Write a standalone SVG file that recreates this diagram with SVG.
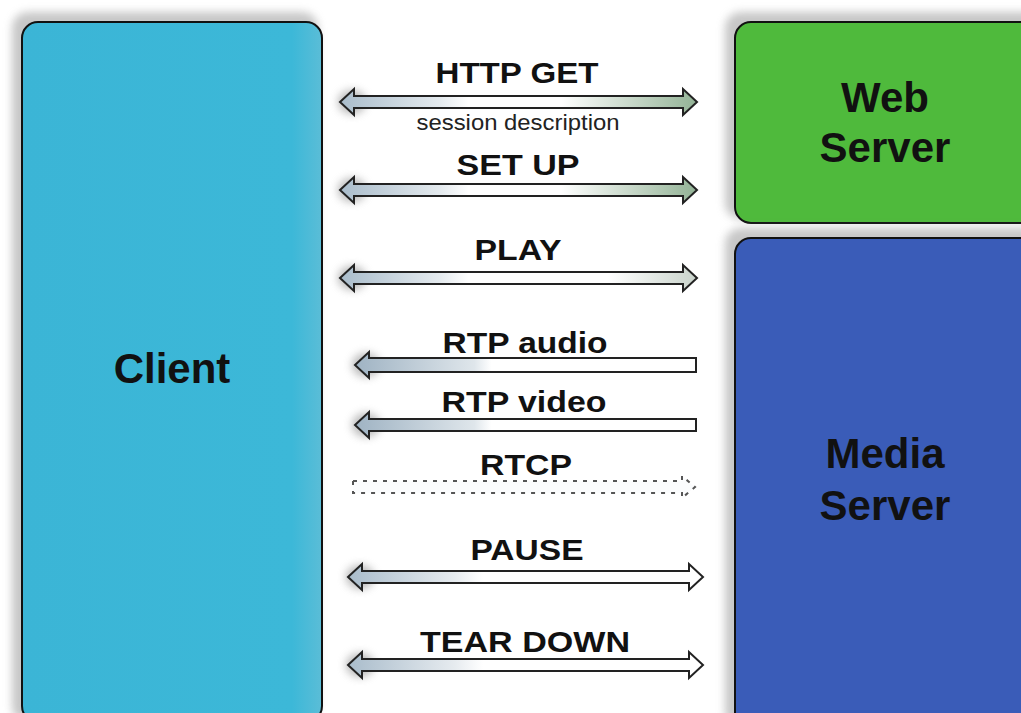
<svg xmlns="http://www.w3.org/2000/svg" width="1021" height="713" viewBox="0 0 1021 713">
  <defs>
    <filter id="soft" x="-20%" y="-20%" width="140%" height="140%">
      <feGaussianBlur stdDeviation="4"/>
    </filter>
    <filter id="glow" x="-100%" y="-100%" width="300%" height="300%">
      <feGaussianBlur stdDeviation="4"/>
    </filter>
    <linearGradient id="clientFill" x1="0" y1="0" x2="1" y2="0">
      <stop offset="0" stop-color="#3bb5d6"/>
      <stop offset="0.9" stop-color="#3cb8d8"/>
      <stop offset="1" stop-color="#5bbdd7"/>
    </linearGradient>
    <!-- shaft fills: blue-grey at the left end, white middle, tinted right end -->
    <linearGradient id="fillGreen" x1="0" y1="0" x2="1" y2="0">
      <stop offset="0" stop-color="#a9bccb"/>
      <stop offset="0.28" stop-color="#e4eaee"/>
      <stop offset="0.36" stop-color="#ffffff"/>
      <stop offset="0.62" stop-color="#ffffff"/>
      <stop offset="1" stop-color="#93b396"/>
    </linearGradient>
    <linearGradient id="fillGrey" x1="0" y1="0" x2="1" y2="0">
      <stop offset="0" stop-color="#a9bccb"/>
      <stop offset="0.28" stop-color="#e4eaee"/>
      <stop offset="0.36" stop-color="#ffffff"/>
      <stop offset="0.75" stop-color="#ffffff"/>
      <stop offset="1" stop-color="#c9d3cb"/>
    </linearGradient>
    <linearGradient id="fillLeft" x1="0" y1="0" x2="1" y2="0">
      <stop offset="0" stop-color="#a9bccb"/>
      <stop offset="0.3" stop-color="#e6ebef"/>
      <stop offset="0.38" stop-color="#ffffff"/>
      <stop offset="1" stop-color="#ffffff"/>
    </linearGradient>
    <linearGradient id="fillRtp" x1="0" y1="0" x2="1" y2="0">
      <stop offset="0" stop-color="#9fb3c3"/>
      <stop offset="0.35" stop-color="#dfe6eb"/>
      <stop offset="0.4" stop-color="#ffffff"/>
      <stop offset="1" stop-color="#ffffff"/>
    </linearGradient>
  </defs>
  <style>
    .box { stroke: #111; stroke-width: 2; }
    .shadow { fill: #9a9a9a; opacity: 0.55; filter: url(#soft); }
    .node-label { font-family: "Liberation Sans", Arial, sans-serif; font-weight: bold; font-size: 42px; fill: #111; text-anchor: middle; }
    .msg { font-family: "Liberation Sans", Arial, sans-serif; font-weight: bold; font-size: 30px; fill: #111; text-anchor: middle; }
    .sub { font-family: "Liberation Sans", Arial, sans-serif; font-size: 22px; fill: #222; text-anchor: middle; }
    .arrow { stroke: #222; stroke-width: 2; stroke-linejoin: miter; }
    .dotted { fill: #fbfcfd; stroke: #555; stroke-width: 2; stroke-dasharray: 4 6; }
    .halo { fill: #8c8c8c; opacity: 0.6; filter: url(#glow); }
  </style>

  <rect width="1021" height="713" fill="#ffffff"/>

  <!-- Client -->
  <g id="client">
    <rect class="shadow" x="12" y="12" width="306" height="710" rx="16"/>
    <rect class="box" x="22" y="22" width="300" height="700" rx="16" fill="url(#clientFill)"/>
    <text class="node-label" x="172" y="383">Client</text>
  </g>

  <!-- Web Server -->
  <g id="web-server">
    <rect class="shadow" x="725" y="12" width="320" height="207" rx="16"/>
    <rect class="box" x="735" y="22" width="310" height="201" rx="16" fill="#4fba3c"/>
    <text class="node-label" x="885" y="112">Web</text>
    <text class="node-label" x="885" y="162">Server</text>
  </g>

  <!-- Media Server -->
  <g id="media-server">
    <rect class="shadow" x="725" y="228" width="320" height="500" rx="16"/>
    <rect class="box" x="735" y="238" width="310" height="490" rx="16" fill="#3a5cb8"/>
    <text class="node-label" x="885" y="468">Media</text>
    <text class="node-label" x="885" y="520">Server</text>
  </g>

  <!-- Connectors -->
  <g id="connectors">
    <!-- soft halos at the client ends -->
    <ellipse class="halo" cx="352" cy="102" rx="14" ry="12"/>
    <ellipse class="halo" cx="352" cy="190" rx="14" ry="12"/>
    <ellipse class="halo" cx="352" cy="278" rx="14" ry="12"/>
    <ellipse class="halo" cx="366" cy="365" rx="14" ry="12"/>
    <ellipse class="halo" cx="366" cy="425" rx="14" ry="12"/>
    <ellipse class="halo" cx="360" cy="577" rx="14" ry="12"/>
    <ellipse class="halo" cx="360" cy="665" rx="14" ry="12"/>

    <!-- HTTP GET -->
    <path class="arrow" fill="url(#fillGreen)" d="M340,102 L354,89 L354,96 L683,96 L683,89 L697,102 L683,115 L683,108 L354,108 L354,115 Z"/>
    <!-- SET UP -->
    <path class="arrow" fill="url(#fillGreen)" d="M340,190 L354,177 L354,184 L683,184 L683,177 L697,190 L683,203 L683,196 L354,196 L354,203 Z"/>
    <!-- PLAY -->
    <path class="arrow" fill="url(#fillGrey)" d="M340,278 L354,265 L354,272 L683,272 L683,265 L697,278 L683,291 L683,284 L354,284 L354,291 Z"/>
    <!-- RTP audio -->
    <path class="arrow" fill="url(#fillRtp)" d="M355,365 L369,352 L369,358 L696,358 L696,372 L369,372 L369,378 Z"/>
    <!-- RTP video -->
    <path class="arrow" fill="url(#fillRtp)" d="M355,425 L369,412 L369,419 L696,419 L696,431 L369,431 L369,438 Z"/>
    <!-- RTCP -->
    <path class="dotted" d="M353,481 L682,481 L682,476 L695,487 L682,498 L682,493 L353,493 Z"/>
    <!-- PAUSE -->
    <path class="arrow" fill="url(#fillLeft)" d="M348,577 L362,564 L362,571 L689,571 L689,564 L703,577 L689,590 L689,583 L362,583 L362,590 Z"/>
    <!-- TEAR DOWN -->
    <path class="arrow" fill="url(#fillLeft)" d="M348,665 L362,652 L362,659 L689,659 L689,652 L703,665 L689,678 L689,671 L362,671 L362,678 Z"/>

    <text class="msg" x="517" y="83" textLength="163" lengthAdjust="spacingAndGlyphs">HTTP GET</text>
    <text class="sub" x="518" y="130" textLength="203" lengthAdjust="spacingAndGlyphs">session description</text>
    <text class="msg" x="518" y="175" textLength="123" lengthAdjust="spacingAndGlyphs">SET UP</text>
    <text class="msg" x="518" y="260" textLength="87" lengthAdjust="spacingAndGlyphs">PLAY</text>
    <text class="msg" x="525" y="353" textLength="165" lengthAdjust="spacingAndGlyphs">RTP audio</text>
    <text class="msg" x="524" y="412" textLength="165" lengthAdjust="spacingAndGlyphs">RTP video</text>
    <text class="msg" x="526" y="475" textLength="92" lengthAdjust="spacingAndGlyphs">RTCP</text>
    <text class="msg" x="527" y="560" textLength="113" lengthAdjust="spacingAndGlyphs">PAUSE</text>
    <text class="msg" x="525" y="652" textLength="210" lengthAdjust="spacingAndGlyphs">TEAR DOWN</text>
  </g>
</svg>
